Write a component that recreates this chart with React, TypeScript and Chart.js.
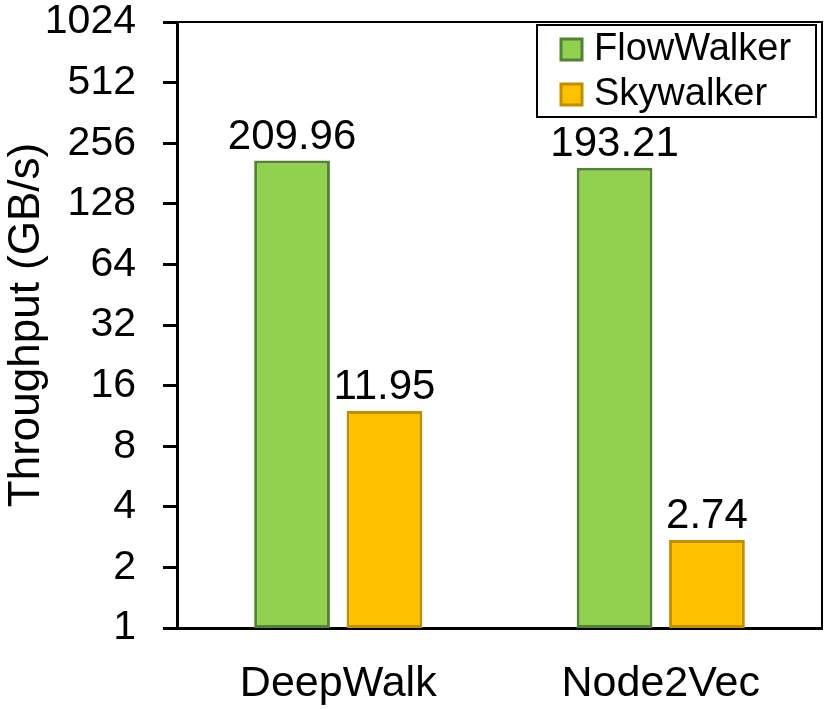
import { useEffect, useRef } from "react"
import { Chart, registerables, type ChartConfiguration, type Plugin } from "chart.js"

Chart.register(...registerables)

const categories = ["DeepWalk", "Node2Vec"]
const flowWalker = [209.96, 193.21]
const skywalker = [11.95, 2.74]
const yTicks = [1, 2, 4, 8, 16, 32, 64, 128, 256, 512, 1024]

const FONT = "'Liberation Sans', Arial, sans-serif"

// top and right border of the plot area
const framePlugin: Plugin = {
  id: "frame",
  afterDraw(chart) {
    const { ctx, chartArea } = chart
    ctx.save()
    ctx.strokeStyle = "#000"
    ctx.lineWidth = 2
    ctx.beginPath()
    ctx.moveTo(chartArea.left, chartArea.top)
    ctx.lineTo(chartArea.right, chartArea.top)
    ctx.lineTo(chartArea.right, chartArea.bottom)
    ctx.stroke()
    ctx.restore()
  },
}

// value labels above the bars
const labelPlugin: Plugin = {
  id: "barLabels",
  afterDatasetsDraw(chart) {
    const { ctx } = chart
    ctx.save()
    ctx.fillStyle = "#000"
    ctx.font = `42px ${FONT}`
    ctx.textAlign = "center"
    ctx.textBaseline = "alphabetic"
    chart.data.datasets.forEach((ds, i) => {
      const meta = chart.getDatasetMeta(i)
      meta.data.forEach((el, j) => {
        const v = ds.data[j] as number
        ctx.fillText(v.toFixed(2), el.x, el.y - 12)
      })
    })
    ctx.restore()
  },
}

// boxed legend inside the top right corner
const legendPlugin: Plugin = {
  id: "boxLegend",
  afterDraw(chart) {
    const { ctx, chartArea } = chart
    const w = 279
    const h = 92
    const x = chartArea.right - 6 - w
    const y = chartArea.top + 3
    ctx.save()
    ctx.strokeStyle = "#000"
    ctx.lineWidth = 2
    ctx.strokeRect(x, y, w, h)
    ctx.font = `38px ${FONT}`
    ctx.textBaseline = "middle"
    ctx.textAlign = "left"
    chart.data.datasets.forEach((ds, i) => {
      const cy = y + 24 + i * 45
      ctx.fillStyle = ds.backgroundColor as string
      ctx.strokeStyle = ds.borderColor as string
      ctx.lineWidth = 3
      ctx.fillRect(x + 24, cy - 10, 21, 21)
      ctx.strokeRect(x + 24, cy - 10, 21, 21)
      ctx.fillStyle = "#000"
      ctx.fillText(ds.label ?? "", x + 57, cy + 1)
    })
    ctx.restore()
  },
}

export default function App() {
  const canvasRef = useRef<HTMLCanvasElement>(null)

  useEffect(() => {
    document.body.style.margin = "0"
    if (!canvasRef.current) return
    const ctx = canvasRef.current.getContext("2d")
    if (!ctx) return

    const config: ChartConfiguration<"bar"> = {
      type: "bar",
      data: {
        labels: categories,
        datasets: [
          {
            label: "FlowWalker",
            data: flowWalker,
            backgroundColor: "#92D050",
            borderColor: "#548235",
            borderWidth: 3,
            borderSkipped: false,
          },
          {
            label: "Skywalker",
            data: skywalker,
            backgroundColor: "#FFC000",
            borderColor: "#BF9000",
            borderWidth: 3,
            borderSkipped: false,
          },
        ],
      },
      options: {
        animation: false,
        responsive: true,
        maintainAspectRatio: false,
        layout: { padding: { top: 22, right: 9, left: 0, bottom: 0 } },
        datasets: { bar: { categoryPercentage: 0.573, barPercentage: 0.82 } },
        plugins: {
          legend: { display: false },
          tooltip: { enabled: false },
        },
        scales: {
          x: {
            grid: { display: false, drawTicks: false },
            border: { display: true, color: "#000", width: 3 },
            ticks: { color: "#000", font: { family: FONT, size: 43 }, padding: 30 },
            afterFit(scale) {
              scale.height = 81
            },
          },
          y: {
            type: "logarithmic",
            min: 1,
            max: 1024,
            grid: {
              drawOnChartArea: false,
              drawTicks: true,
              tickLength: 14,
              tickWidth: 3,
              tickColor: "#000",
            },
            border: { display: true, color: "#000", width: 3 },
            ticks: {
              color: "#000",
              font: { family: FONT, size: 41 },
              padding: 27,
              autoSkip: false,
              callback: (v) => String(v),
            },
            afterBuildTicks(scale) {
              scale.ticks = yTicks.map((value) => ({ value }))
            },
            afterFit(scale) {
              scale.width = 177
              scale.paddingTop = 0
              scale.paddingBottom = 0
            },
            title: {
              display: true,
              text: "Throughput (GB/s)",
              color: "#000",
              font: { family: FONT, size: 44 },
              padding: 0,
            },
          },
        },
      },
      plugins: [framePlugin, labelPlugin, legendPlugin],
    }

    const chart = new Chart(ctx, config)
    return () => chart.destroy()
  }, [])

  return (
    <div style={{ width: 831, height: 709, position: "relative", background: "#fff" }}>
      <canvas ref={canvasRef} />
    </div>
  )
}
